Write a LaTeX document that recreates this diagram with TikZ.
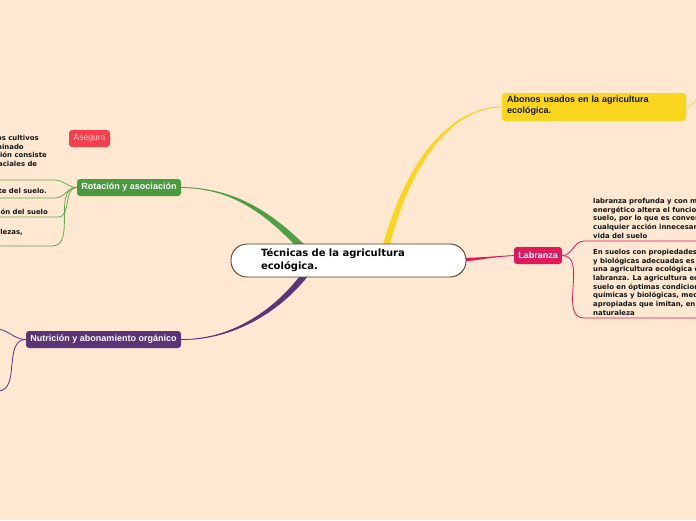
\documentclass[tikz,border=0pt]{standalone}
\usepackage{fontspec}
\setmainfont{DejaVu Sans}
\newfontfamily\labfont{Liberation Sans}
\usepackage{tikz}
\usetikzlibrary{backgrounds}
\usepackage{xcolor}
\definecolor{tcbg}{HTML}{FEE8D1}
\definecolor{tcbrown}{HTML}{5C3A1E}
\definecolor{tcink}{HTML}{151515}
\definecolor{tcyellow}{HTML}{F9D51E}
\definecolor{tcpink}{HTML}{E0185C}
\definecolor{tcgreen}{HTML}{4A9B3F}
\definecolor{tcgreenl}{HTML}{5DAA4A}
\definecolor{tcpurple}{HTML}{5C3479}
\definecolor{tcred}{HTML}{F43F4E}
\definecolor{tcredtxt}{HTML}{FFD3D7}
\pgfdeclarelayer{edges}
\pgfsetlayers{background,edges,main}

\begin{document}
\begin{tikzpicture}[x=1pt, y=-1pt,
    root/.style={draw=tcbrown, fill=white, line width=0.9pt, rounded corners=16pt,
                 text width=175pt, inner xsep=30pt, minimum height=33pt, align=left,
                 font=\fontsize{10}{13}\selectfont\bfseries},
    topic/.style={rounded corners=3pt, minimum height=17pt, inner sep=0pt, text=white,
                  font=\labfont\fontsize{9}{11}\selectfont\bfseries},
    note/.style={font=\fontsize{6.9}{8.7}\selectfont\bfseries, text=tcink,
                 align=left, inner xsep=0pt, inner ysep=2.5pt},
    link/.style={line width=0.8pt},
  ]
  \useasboundingbox (0,0) rectangle (696,520);
  \begin{pgfonlayer}{background}
    \fill[tcbg] (0,0) rectangle (696,520);
  \end{pgfonlayer}

  % Central topic
  \node[root] (root) at (348.5,260.5) {Técnicas de la agricultura\\ecológica.\rule[-3pt]{0pt}{0pt}};

  % Main topics
  \node[topic, fill=tcyellow, text=tcink, minimum width=184pt, minimum height=28pt,
        text width=174pt, inner xsep=5pt, align=left,
        font=\labfont\fontsize{9}{11}\selectfont\bfseries] (abonos) at (594,107)
        {Abonos usados en la agricultura\\ecológica.\rule[-4pt]{0pt}{0pt}};
  \node[topic, fill=tcpink, minimum width=48pt] (labranza) at (538,255.5) {Labranza};
  \node[topic, fill=tcgreen, minimum width=104pt] (rotacion) at (129,187.5) {Rotación y asociación};
  \node[topic, fill=tcpurple, minimum width=155pt] (nutricion) at (103.5,339.5) {Nutrición y abonamiento orgánico};
  \node[topic, fill=tcred, text=tcredtxt, minimum width=41pt,
        font=\labfont\fontsize{8.5}{10}\selectfont] (asegura) at (89.5,138.5) {Asegura};

  % Notes of Rotación y asociación
  \node[note, anchor=south east, inner ysep=4.5pt] (rot1) at (47,180)
    {Es una alternancia de los cultivos\\en un solo suelo determinado\\en el tiempo; la asociación consiste\\con combinaciones espaciales de\\los cultivos.};
  \node[note, anchor=south east] (rot2) at (47,198) {Evita el desgaste del suelo.};
  \node[note, anchor=south east] (rot3) at (48,217) {Favorece la conservación del suelo};
  \node[note, anchor=south east] (rot4) at (23,246) {Controla plagas, enfermedades y malezas,\\etc.};

  % Notes of Labranza
  \node[note, anchor=south west] (lab1) at (593,241)
    {labranza profunda y con mucho gasto\\energético altera el funcionamiento del\\suelo, por lo que es conveniente evitar\\cualquier acción innecesaria que altere la\\vida del suelo};
  \node[note, anchor=south west] (lab2) at (593,318)
    {En suelos con propiedades físicas, químicas\\y biológicas adecuadas es posible practicar\\una agricultura ecológica con mínima\\labranza. La agricultura ecológica mantiene el\\suelo en óptimas condiciones físicas,\\químicas y biológicas, mediante prácticas\\apropiadas que imitan, en lo posible, la\\naturaleza};

  % Free ends
  \coordinate (u1) at (55,180);
  \coordinate (u2) at (55,198);
  \coordinate (u3) at (58,217);
  \coordinate (u4) at (52,246);
  \coordinate (l1) at (584,241);
  \coordinate (l2) at (584,318);
  \coordinate (n1) at (-4,329);
  \coordinate (n2) at (-2,391);
  \coordinate (a1) at (700,99);

  \begin{pgfonlayer}{edges}
    % Tapered branches
    \fill[tcyellow] (abonos.west) .. controls (450,107) and (405,160) .. (381,252)
      -- (388,252) .. controls (410,162) and (452,108) .. (abonos.west) -- cycle;
    \draw[tcyellow, link] (abonos.west) .. controls (451,107) and (407,161) .. (384,252);
    \fill[tcgreen!95!white] (rotacion.east) .. controls (240,188) and (275,225) .. (301,251)
      -- (307,247) .. controls (280,221) and (242,187) .. (rotacion.east) -- cycle;
    \draw[tcgreen, link] (rotacion.east) .. controls (241,188) and (277,223) .. (304,249);
    \fill[tcpurple] (nutricion.east) .. controls (230,340) and (275,310) .. (302,273)
      -- (308,276) .. controls (279,313) and (231,341) .. (nutricion.east) -- cycle;
    \draw[tcpurple, link] (nutricion.east) .. controls (231,340) and (277,311) .. (305,274);
    \fill[tcpink] (labranza.west) .. controls (495,256) and (480,258) .. (455,258)
      -- (455,262) .. controls (480,261) and (495,256) .. (labranza.west) -- cycle;
    \draw[tcpink, link] (labranza.west) -- (455,260);

    % Sub-branches
    \draw[tcgreenl, link] (rot1.south west) -- (u1) to[out=0,in=180] (rotacion.west);
    \draw[tcgreenl, link] (rot2.south west) -- (u2) to[out=0,in=180] (rotacion.west);
    \draw[tcgreenl, link] (rot3.south west) -- (u3) to[out=0,in=180] (rotacion.west);
    \draw[tcgreenl, link] (rot4.south west) -- (u4) to[out=0,in=180] (rotacion.west);
    \draw[tcpink, link] (labranza.east) to[out=0,in=180] (l1) -- (lab1.south east);
    \draw[tcpink, link] (labranza.east) to[out=0,in=180] (l2) -- (lab2.south east);
    \draw[tcpurple, link] (nutricion.west) to[out=180,in=0] (n1);
    \draw[tcpurple, link] (nutricion.west) to[out=180,in=0] (n2);
    \draw[tcyellow, link] (abonos.east) to[out=0,in=180] (a1);
  \end{pgfonlayer}
\end{tikzpicture}
\end{document}
